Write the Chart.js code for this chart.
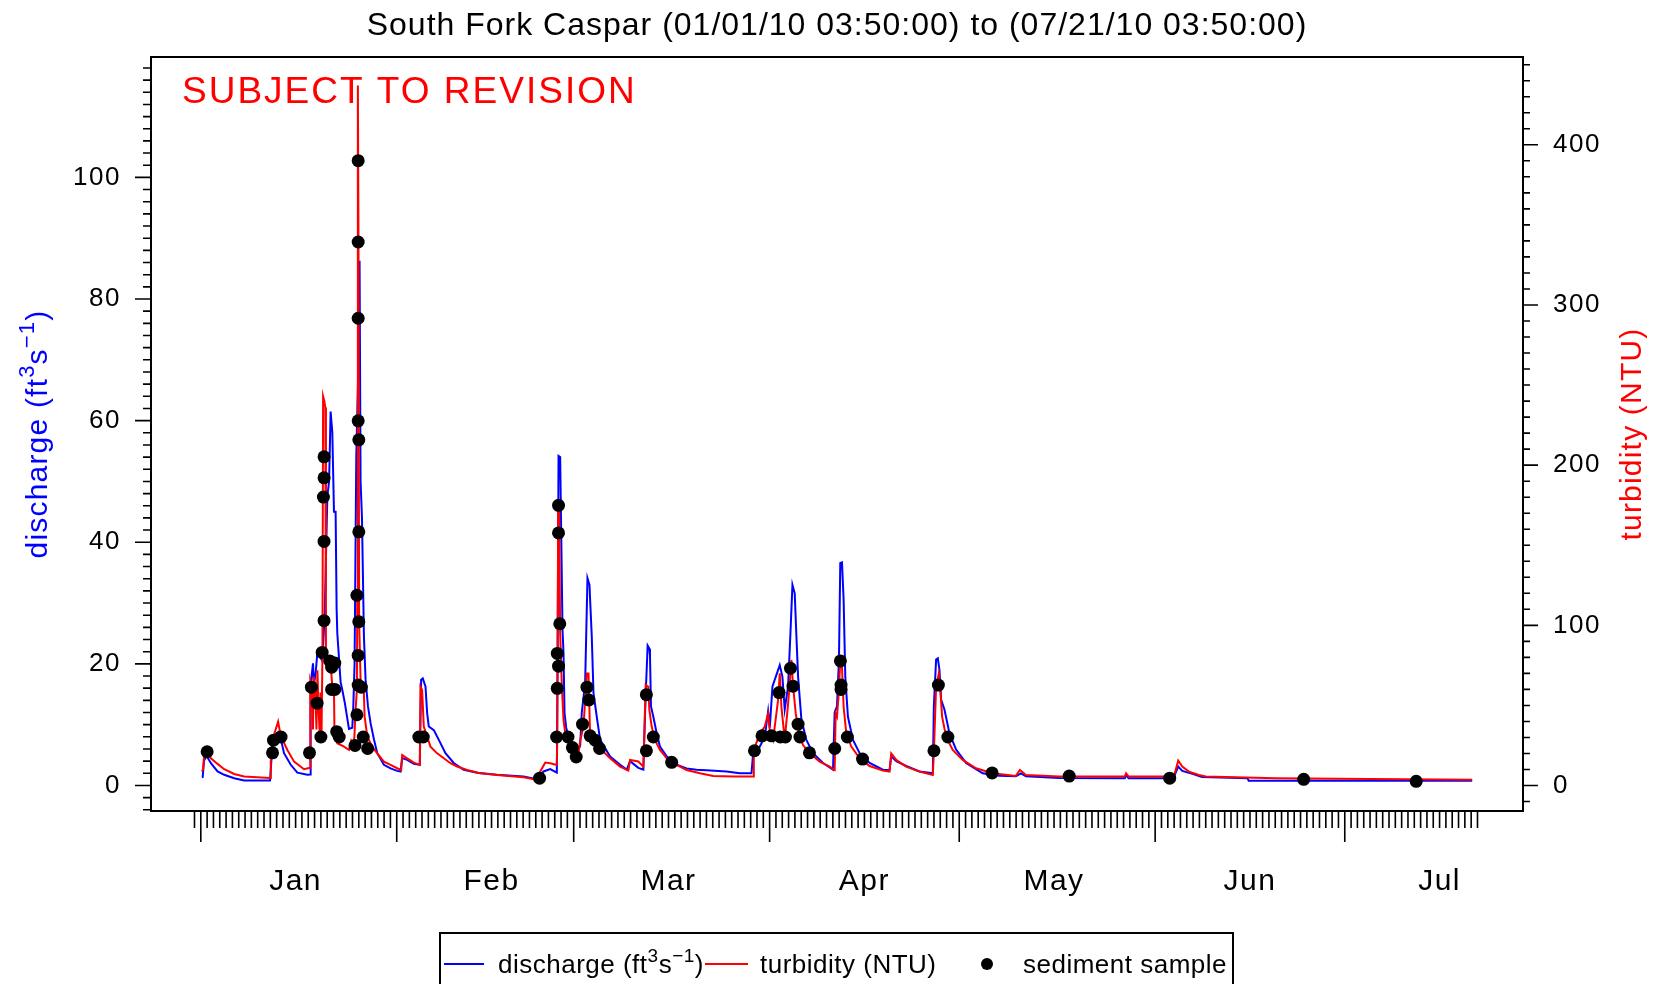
<!DOCTYPE html>
<html>
<head>
<meta charset="utf-8">
<title>South Fork Caspar discharge and turbidity</title>
<script src="https://cdn.jsdelivr.net/npm/chart.js"></script>
<style>
  html, body { margin: 0; padding: 0; background: #ffffff; }
  #wrap { width: 1658px; height: 984px; }
  canvas { display: block; }
</style>
</head>
<body>
<div id="wrap"><canvas id="chart" width="1658" height="984"></canvas></div>
<script>
// Time axis: days since 01/01/10 00:00. Record runs 01/01/10 03:50 to 07/21/10 03:50.
const RECORD_START = 0.16;
const RECORD_END = 201.16;

const MONTHS = ['Jan', 'Feb', 'Mar', 'Apr', 'May', 'Jun', 'Jul'];
const MONTH_START = [0, 31, 59, 90, 120, 151, 181];
const MONTH_LABEL_DAY = 16; // month names sit on the 16th

const Q_TICKS = [0, 20, 40, 60, 80, 100];
const NTU_TICKS = [0, 100, 200, 300, 400];
const Q_RANGE = [-4.2, 119.8];
const NTU_RANGE = [-15.9, 454.8];

// discharge, ft3/s  [day, value]
const DISCHARGE = [
  [0.16, 1.36], [0.3, 1.4], [0.5, 4.0], [0.9, 4.9], [1.6, 3.67], [2.65, 2.3], [3.7, 1.75], [5.28, 1.2], [6.86, 0.81], [10.96, 0.81],
  [11.17, 4.2], [11.6, 8.3], [12.39, 8.9], [13.17, 5.3], [14.23, 3.4], [15.28, 2.1], [16.86, 1.75], [17.28, 1.8],
  [17.38, 16.5], [17.75, 20.1], [17.9, 16.5], [18.17, 18.5], [18.44, 21.8], [19.23, 20.5], [19.6, 28], [20.02, 47.6], [20.3, 50],
  [20.54, 61.5], [20.81, 58], [21.07, 45], [21.33, 45], [21.49, 29], [21.6, 25], [22.12, 17], [22.39, 15.7], [22.8, 13.5],
  [23.44, 9.3], [23.97, 9.5], [24.13, 13], [24.33, 20], [24.6, 54], [24.95, 70], [25.12, 86.3], [25.28, 50], [25.5, 44],
  [25.81, 24.5], [26.07, 17.4], [26.45, 13], [26.87, 10.2], [27.39, 7.6], [27.92, 5.3],
  [28.97, 3.4], [30.02, 2.8], [31.07, 2.4], [31.6, 2.3], [31.86, 4.5], [32.65, 4.2], [33.7, 3.55], [34.65, 3.4],
  [34.86, 17.4], [35.12, 17.6], [35.55, 16.3], [35.81, 11.9], [36.07, 9.7], [36.87, 9.1], [37.66, 7.5], [38.71, 5.3],
  [40.02, 3.7], [41.6, 2.57], [43.7, 2.1], [46.86, 1.75], [51.07, 1.48], [53.18, 1.03], [54.23, 2.3], [55.28, 2.68], [56.33, 2.1],
  [56.45, 20], [56.6, 54.2], [56.86, 54], [57.23, 25.6], [57.39, 21.8], [57.55, 11.9], [57.81, 9.5], [58.18, 8.1], [58.7, 6.4],
  [59.2, 6.2], [59.76, 6.0], [60.02, 6.5], [60.28, 12], [60.81, 16.8], [61.18, 34.1], [61.5, 33], [61.6, 30.5], [61.86, 24.5],
  [62.13, 15.2], [62.65, 11.3], [63.18, 7.5], [64.76, 4.75], [66.34, 3.4], [67.4, 2.6], [67.92, 4.0], [69.23, 2.9], [70.02, 2.6],
  [70.39, 15], [70.7, 23], [70.97, 22.5], [71.07, 21.4], [71.23, 13], [71.6, 11.3], [72.13, 8.6], [72.65, 6.4], [73.71, 4.8],
  [75.29, 3.4], [76.86, 2.8], [78.44, 2.6], [80.02, 2.5], [83.18, 2.3], [85.28, 2.0], [87.13, 2.0],
  [87.39, 5.3], [88.45, 6.4], [89.24, 8], [89.76, 12.2], [90.02, 9.5], [90.45, 16.3], [91.6, 19.8], [92.02, 17.9], [92.39, 12.5],
  [92.92, 16.3], [93.29, 25], [93.61, 33], [93.97, 31.6], [94.24, 24.5], [94.5, 17.9], [95.03, 10.8], [95.81, 7.5], [96.87, 5.3],
  [98.45, 3.7], [100.03, 2.6],
  [100.29, 12], [100.66, 13], [100.97, 20.7], [101.18, 36.6], [101.45, 36.7], [101.71, 30.5], [101.97, 17.9], [102.39, 11.3],
  [103.19, 7.5], [104.24, 5.3], [105.82, 3.7], [107.92, 2.6], [108.97, 2.5],
  [109.24, 4.8], [110.03, 4.0], [111.6, 3.2], [113.71, 2.3], [115.82, 2.0],
  [115.98, 12.9], [116.34, 20.7], [116.61, 20.9], [116.87, 19], [117.14, 14.1], [117.66, 12.5], [118.45, 8.6], [119.5, 5.9],
  [121.08, 3.7], [123.71, 2.0], [126.34, 1.6], [128.97, 1.5], [129.76, 2.0], [130.55, 1.5], [135.82, 1.24],
  [146.2, 1.2], [146.4, 1.7], [146.8, 1.2], [153.9, 1.2], [154.2, 2.0], [154.65, 3.1], [155.29, 2.4], [156.9, 1.9], [158.4, 1.4],
  [165.6, 1.2], [165.8, 0.76], [201.16, 0.76]
];

// turbidity, NTU  [day, value]
const TURBIDITY = [
  [0.16, 8.7], [0.35, 10], [0.6, 22.2], [1.0, 21], [1.6, 17], [2.65, 13.5], [3.7, 10.2], [5.28, 7.2], [6.86, 5.6], [10.96, 4.7],
  [11.07, 15], [11.33, 28.5], [12.23, 39.9], [12.65, 31], [13.7, 22.2], [14.76, 14.9], [16.33, 10.2], [17.12, 11], [17.28, 11],
  [17.32, 66], [17.6, 62], [17.75, 35], [17.85, 68], [18.1, 60], [18.3, 35], [18.45, 72], [18.6, 51], [18.8, 33], [18.95, 58],
  [19.1, 31], [19.25, 84], [19.35, 243], [19.55, 240], [19.7, 236], [19.8, 84], [20.1, 75], [20.5, 78], [20.8, 62], [21.07, 60],
  [21.15, 33], [21.6, 26.4], [22.66, 24.3], [23.44, 22.2], [23.8, 28], [24.1, 26], [24.3, 30], [24.45, 45], [24.7, 60],
  [24.75, 120], [24.85, 437], [24.95, 340], [25.05, 102], [25.3, 63], [25.6, 61], [25.8, 58], [25.92, 43], [26.34, 30.5],
  [27.13, 24.3], [27.92, 20.1],
  [28.97, 14.9], [30.02, 12.9], [31.07, 10.8], [31.7, 9.7], [31.86, 19.1], [32.65, 17], [33.7, 14.3], [34.65, 12.9],
  [34.75, 61.7], [35.02, 59.6], [35.28, 36.8], [35.81, 30.5], [36.34, 24.3], [37.39, 20.1], [38.45, 17], [39.5, 13.9],
  [40.55, 11.9], [42.13, 9.7], [44.23, 7.7], [46.86, 6.6], [51.07, 5.2], [52.65, 4.0], [53.7, 8.7], [54.5, 14.3], [55.28, 13.9],
  [56.33, 12.9],
  [56.4, 30], [56.55, 178], [56.7, 170], [56.86, 95], [57.13, 61.7], [57.39, 41], [57.65, 33], [57.92, 31], [58.44, 22.2],
  [58.97, 18], [59.4, 17.8], [59.76, 20], [60.02, 28], [60.55, 36.8], [61.07, 70], [61.34, 70], [61.45, 53], [61.6, 31],
  [61.86, 33], [62.39, 27], [63.18, 23], [64.76, 17], [66.34, 11.8], [67.65, 9.3], [67.92, 16], [69.23, 15], [70.02, 11.8],
  [70.39, 62.8], [70.81, 61.6], [70.97, 47.2], [71.34, 36.8], [71.86, 28.5], [72.65, 22.2], [73.71, 17], [75.29, 12.9],
  [76.86, 9.7], [78.97, 7.7], [81.08, 6], [84.23, 5.6], [87.39, 5.6],
  [87.5, 22.2], [88.45, 32.6], [89.24, 36.8], [89.76, 45], [90.02, 34.7], [90.55, 28.5], [91.34, 53.4], [91.6, 70], [91.87, 49],
  [92.39, 28.5], [92.92, 51], [93.45, 78.4], [93.71, 62], [94.13, 45], [94.5, 36], [94.9, 29], [95.29, 25.3], [96.34, 20.1],
  [97.92, 14.9], [99.5, 11.8], [100.29, 9.7],
  [100.45, 45], [100.66, 43], [100.97, 59.7], [101.18, 78.4], [101.45, 74], [101.71, 49], [102.13, 32.6], [102.92, 24.3],
  [104.24, 17], [105.82, 12.2], [107.92, 9.3], [108.97, 8.7],
  [109.24, 20.1], [110.03, 16], [111.6, 11.8], [113.71, 8.7], [115.82, 6.6],
  [115.98, 20], [116.34, 61.6], [116.77, 70], [116.98, 61.6], [117.29, 43], [117.92, 30.5], [118.97, 22.2], [120.55, 16],
  [122.66, 10.8], [125.29, 7.7], [128.97, 6], [129.6, 9.7], [130.55, 6.6], [135.82, 5.6],
  [146.2, 5.6], [146.4, 7.7], [146.8, 5.6], [153.9, 5.6], [154.2, 9], [154.65, 15.5], [155.29, 11.8], [156.34, 8.7],
  [157.92, 6.6], [159, 5.6], [170, 4.6], [185, 4.0], [201.16, 3.6]
];

// sediment samples, plotted at turbidity  [day, NTU]
const SAMPLES = [
  [1.0, 21.1], [11.35, 20.4], [11.5, 28.3], [12.7, 30.3], [17.2, 20.4], [17.5, 61.4], [18.4, 51.4], [19.0, 30.3],
  [19.2, 83.1], [19.5, 102.9], [19.5, 152.4], [19.4, 180.1], [19.5, 192.1], [19.5, 205.2], [20.4, 77.8], [20.7, 73.9],
  [20.7, 60], [21.2, 76.5], [21.2, 60], [21.5, 33.6], [21.9, 30.3], [24.4, 25.0], [24.7, 44.2], [24.9, 62.7], [24.9, 81.2],
  [24.7, 118.8], [25.0, 102.3], [25.0, 158.4], [25.0, 215.8], [24.9, 227.7], [24.9, 291.7], [24.9, 339.3], [24.9, 390.1],
  [25.4, 61.4], [25.7, 30.3], [26.4, 23.1], [34.5, 30.3], [35.2, 30.3], [53.6, 4.6], [56.3, 30.3], [56.4, 60.7], [56.6, 74.5],
  [56.4, 82.5], [56.8, 101], [56.6, 157.7], [56.6, 174.9], [58.1, 30.3], [58.8, 23.7], [59.4, 17.8], [60.4, 38.3],
  [61.1, 61.4], [61.4, 53.4], [61.6, 31], [62.4, 28.3], [63.1, 23.1], [70.5, 56.7], [70.5, 21.7], [71.6, 30.3], [74.5, 14.5],
  [87.6, 21.7], [88.8, 31], [90.3, 31], [91.7, 30.3], [91.5, 58], [92.5, 30.3], [93.3, 73.2], [93.7, 62], [94.5, 38.3],
  [94.8, 30.3], [96.3, 20.4], [100.3, 23.1], [101.2, 77.8], [101.3, 62.7], [101.3, 60], [102.3, 30.3], [104.7, 16.5],
  [116.0, 21.7], [116.7, 62.7], [118.2, 30.3], [125.2, 7.9], [137.4, 5.9], [153.3, 4.6], [174.5, 3.9], [192.3, 2.6]
];

const FONT = '"Liberation Sans", Arial, Helvetica, sans-serif';
const BLUE = '#0000ff';
const RED = '#ff0000';

const pts = rows => rows.map(([x, y]) => ({ x, y }));

function drawText(ctx, s, x, y, o) {
  ctx.save();
  ctx.font = `${o.size}px ${FONT}`;
  ctx.letterSpacing = (o.ls || 0) + 'px';
  ctx.fillStyle = o.color || '#000';
  ctx.textAlign = o.align || 'left';
  ctx.textBaseline = 'alphabetic';
  ctx.translate(x, y);
  if (o.rot) ctx.rotate(o.rot);
  ctx.fillText(s, 0, 0);
  ctx.restore();
}

// text with superscript pieces, e.g. ft^3 s^-1
function drawRich(ctx, parts, x, y, o) {
  ctx.save();
  ctx.translate(x, y);
  if (o.rot) ctx.rotate(o.rot);
  ctx.fillStyle = o.color || '#000';
  ctx.textAlign = 'left';
  ctx.textBaseline = 'alphabetic';
  ctx.letterSpacing = (o.ls || 0) + 'px';
  const fontOf = p => `${p.sup ? Math.round(o.size * 0.72) : o.size}px ${FONT}`;
  let w = 0;
  for (const p of parts) { ctx.font = fontOf(p); w += ctx.measureText(p.t).width; }
  let cx = o.align === 'center' ? -w / 2 : 0;
  for (const p of parts) {
    ctx.font = fontOf(p);
    ctx.fillText(p.t, cx, p.sup ? -o.size * 0.42 : 0);
    cx += ctx.measureText(p.t).width;
  }
  ctx.restore();
}

const DISCHARGE_LABEL = [{ t: 'discharge (ft' }, { t: '3', sup: true }, { t: 's' }, { t: '\u22121', sup: true }, { t: ')' }];

const decor = {
  id: 'decor',
  beforeDraw(chart) { chart.ctx.letterSpacing = '1.5px'; },
  afterDraw(chart) {
    const { ctx, chartArea: a, scales: { x, yQ, yT } } = chart;
    ctx.save();
    ctx.letterSpacing = '0px';
    ctx.strokeStyle = '#000';

    // plot frame
    ctx.lineWidth = 2;
    ctx.strokeRect(a.left, a.top, a.right - a.left, a.bottom - a.top);

    // tick marks: minor every 2 / 10 units, daily on the time axis, long at month starts
    ctx.lineWidth = 1.6;
    ctx.beginPath();
    for (let v = Math.ceil(yQ.min / 2) * 2; v <= yQ.max; v += 2) {
      const p = yQ.getPixelForValue(v);
      const len = v % 20 === 0 ? 16 : 8;
      ctx.moveTo(a.left - len, p); ctx.lineTo(a.left, p);
    }
    for (let v = Math.ceil(yT.min / 10) * 10; v <= yT.max; v += 10) {
      const p = yT.getPixelForValue(v);
      const len = v % 100 === 0 ? 15 : 7;
      ctx.moveTo(a.right, p); ctx.lineTo(a.right + len, p);
    }
    for (let d = Math.floor(RECORD_START) - 1; d <= Math.ceil(RECORD_END); d++) {
      const p = x.getPixelForValue(d);
      const len = MONTH_START.includes(d) ? 31 : 17;
      ctx.moveTo(p, a.bottom); ctx.lineTo(p, a.bottom + len);
    }
    ctx.stroke();

    // headings
    const midX = (a.left + a.right) / 2;
    const midY = (a.top + a.bottom) / 2;
    drawText(ctx, 'South Fork Caspar (01/01/10 03:50:00) to (07/21/10 03:50:00)', midX, 35,
      { size: 32, ls: 1, align: 'center' });
    drawText(ctx, 'SUBJECT TO REVISION', a.left + 31, 103, { size: 37, ls: 2, color: RED });
    drawRich(ctx, DISCHARGE_LABEL, 47, midY, { size: 30, ls: 1.2, color: BLUE, rot: -Math.PI / 2, align: 'center' });
    drawText(ctx, 'turbidity (NTU)', 1641, midY, { size: 30, ls: 1.2, color: RED, rot: -Math.PI / 2, align: 'center' });

    // legend
    const lt = 933, ly = 964, base = 973;
    ctx.lineWidth = 2;
    ctx.strokeStyle = '#000';
    ctx.strokeRect(440, lt, 793, 80);
    ctx.strokeStyle = BLUE;
    ctx.beginPath(); ctx.moveTo(444, ly); ctx.lineTo(484, ly); ctx.stroke();
    drawRich(ctx, DISCHARGE_LABEL, 498, base, { size: 26, ls: 0.5 });
    ctx.strokeStyle = RED;
    ctx.beginPath(); ctx.moveTo(705, ly); ctx.lineTo(748, ly); ctx.stroke();
    drawText(ctx, 'turbidity (NTU)', 760, base, { size: 26, ls: 0.5 });
    ctx.fillStyle = '#000';
    ctx.beginPath(); ctx.arc(987, ly, 6, 0, Math.PI * 2); ctx.fill();
    drawText(ctx, 'sediment sample', 1023, base, { size: 26, ls: 0.5 });
    ctx.restore();
  }
};

const span = RECORD_END - RECORD_START;

new Chart(document.getElementById('chart'), {
  type: 'scatter',
  data: {
    datasets: [
      { label: 'discharge', data: pts(DISCHARGE), yAxisID: 'yQ', showLine: true, borderColor: BLUE,
        borderWidth: 2, pointRadius: 0, tension: 0, order: 3 },
      { label: 'turbidity', data: pts(TURBIDITY), yAxisID: 'yT', showLine: true, borderColor: RED,
        borderWidth: 2, pointRadius: 0, tension: 0, order: 2 },
      { label: 'sediment sample', data: pts(SAMPLES), yAxisID: 'yT', showLine: false, pointRadius: 6.5,
        pointBackgroundColor: '#000', pointBorderWidth: 0, order: 1 }
    ]
  },
  options: {
    responsive: false,
    animation: false,
    devicePixelRatio: 1,
    layout: { padding: { top: 57, left: 0, right: 0, bottom: 53 } },
    plugins: { legend: { display: false }, tooltip: { enabled: false }, title: { display: false } },
    scales: {
      x: {
        type: 'linear', position: 'bottom',
        min: RECORD_START - 0.04 * span, max: RECORD_END + 0.04 * span,
        grid: { display: false, drawTicks: false }, border: { display: false },
        afterBuildTicks: s => { s.ticks = MONTH_START.map(m => ({ value: m + MONTH_LABEL_DAY - 1 })); },
        afterFit: s => { s.height = 120; },
        ticks: { autoSkip: false, maxRotation: 0, minRotation: 0, padding: 53, color: '#000',
          font: { family: FONT, size: 30 }, callback: (v, i) => MONTHS[i] }
      },
      yQ: {
        type: 'linear', position: 'left', min: Q_RANGE[0], max: Q_RANGE[1],
        grid: { display: false, drawTicks: false }, border: { display: false },
        afterBuildTicks: s => { s.ticks = Q_TICKS.map(v => ({ value: v })); },
        afterFit: s => { s.width = 151; },
        ticks: { padding: 30, color: '#000', font: { family: FONT, size: 26 } }
      },
      yT: {
        type: 'linear', position: 'right', min: NTU_RANGE[0], max: NTU_RANGE[1],
        grid: { display: false, drawTicks: false }, border: { display: false },
        afterBuildTicks: s => { s.ticks = NTU_TICKS.map(v => ({ value: v })); },
        afterFit: s => { s.width = 135; },
        ticks: { padding: 30, color: '#000', font: { family: FONT, size: 26 } }
      }
    }
  },
  plugins: [decor]
});
</script>
</body>
</html>
